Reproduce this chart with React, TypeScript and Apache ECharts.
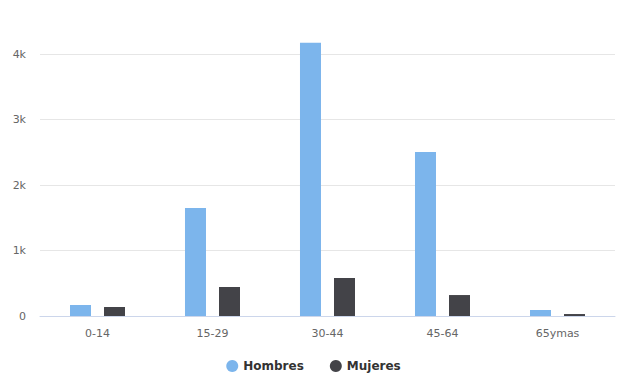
import React, { useEffect, useRef } from "react";
import * as echarts from "echarts";

const categories = ["0-14", "15-29", "30-44", "45-64", "65ymas"];
const hombres = [168, 1650, 4170, 2505, 92];
const mujeres = [137, 443, 580, 320, 30];

export default function App() {
  const ref = useRef<HTMLDivElement>(null);
  useEffect(() => {
    const chart = echarts.init(ref.current!, undefined, { renderer: "svg" });
    chart.setOption({
      animation: false,
      backgroundColor: "#ffffff",
      textStyle: { fontFamily: "DejaVu Sans" },
      grid: { left: 32, right: 4, top: 46, bottom: 60, containLabel: false },
      legend: {
        top: 347,
        left: "center",
        itemGap: 26,
        icon: "circle",
        itemWidth: 12,
        itemHeight: 12,
        textStyle: { color: "#333333", fontWeight: "bold", fontSize: 12, fontFamily: "DejaVu Sans" },
        data: ["Hombres", "Mujeres"],
      },
      xAxis: {
        type: "category",
        data: categories,
        axisTick: { show: false },
        axisLine: { lineStyle: { color: "#ccd6eb" } },
        axisLabel: { color: "#666666", fontSize: 11, margin: 12 },
      },
      yAxis: {
        type: "value",
        min: 0,
        max: 4000,
        interval: 1000,
        axisLabel: {
          color: "#666666",
          fontSize: 11,
          margin: 14,
          formatter: (v: number) => (v === 0 ? "0" : v / 1000 + "k"),
        },
        splitLine: { lineStyle: { color: "#e6e6e6" } },
        axisLine: { show: false },
        axisTick: { show: false },
      },
      series: [
        {
          name: "Hombres",
          type: "bar",
          data: hombres,
          barWidth: 21,
          barGap: "62%",
          clip: false,
          itemStyle: { color: "#7cb5ec" },
        },
        {
          name: "Mujeres",
          type: "bar",
          data: mujeres,
          barWidth: 21,
          clip: false,
          itemStyle: { color: "#434348" },
        },
      ],
    });
    return () => chart.dispose();
  }, []);
  return <div ref={ref} style={{ width: 611, height: 368 }} />;
}
